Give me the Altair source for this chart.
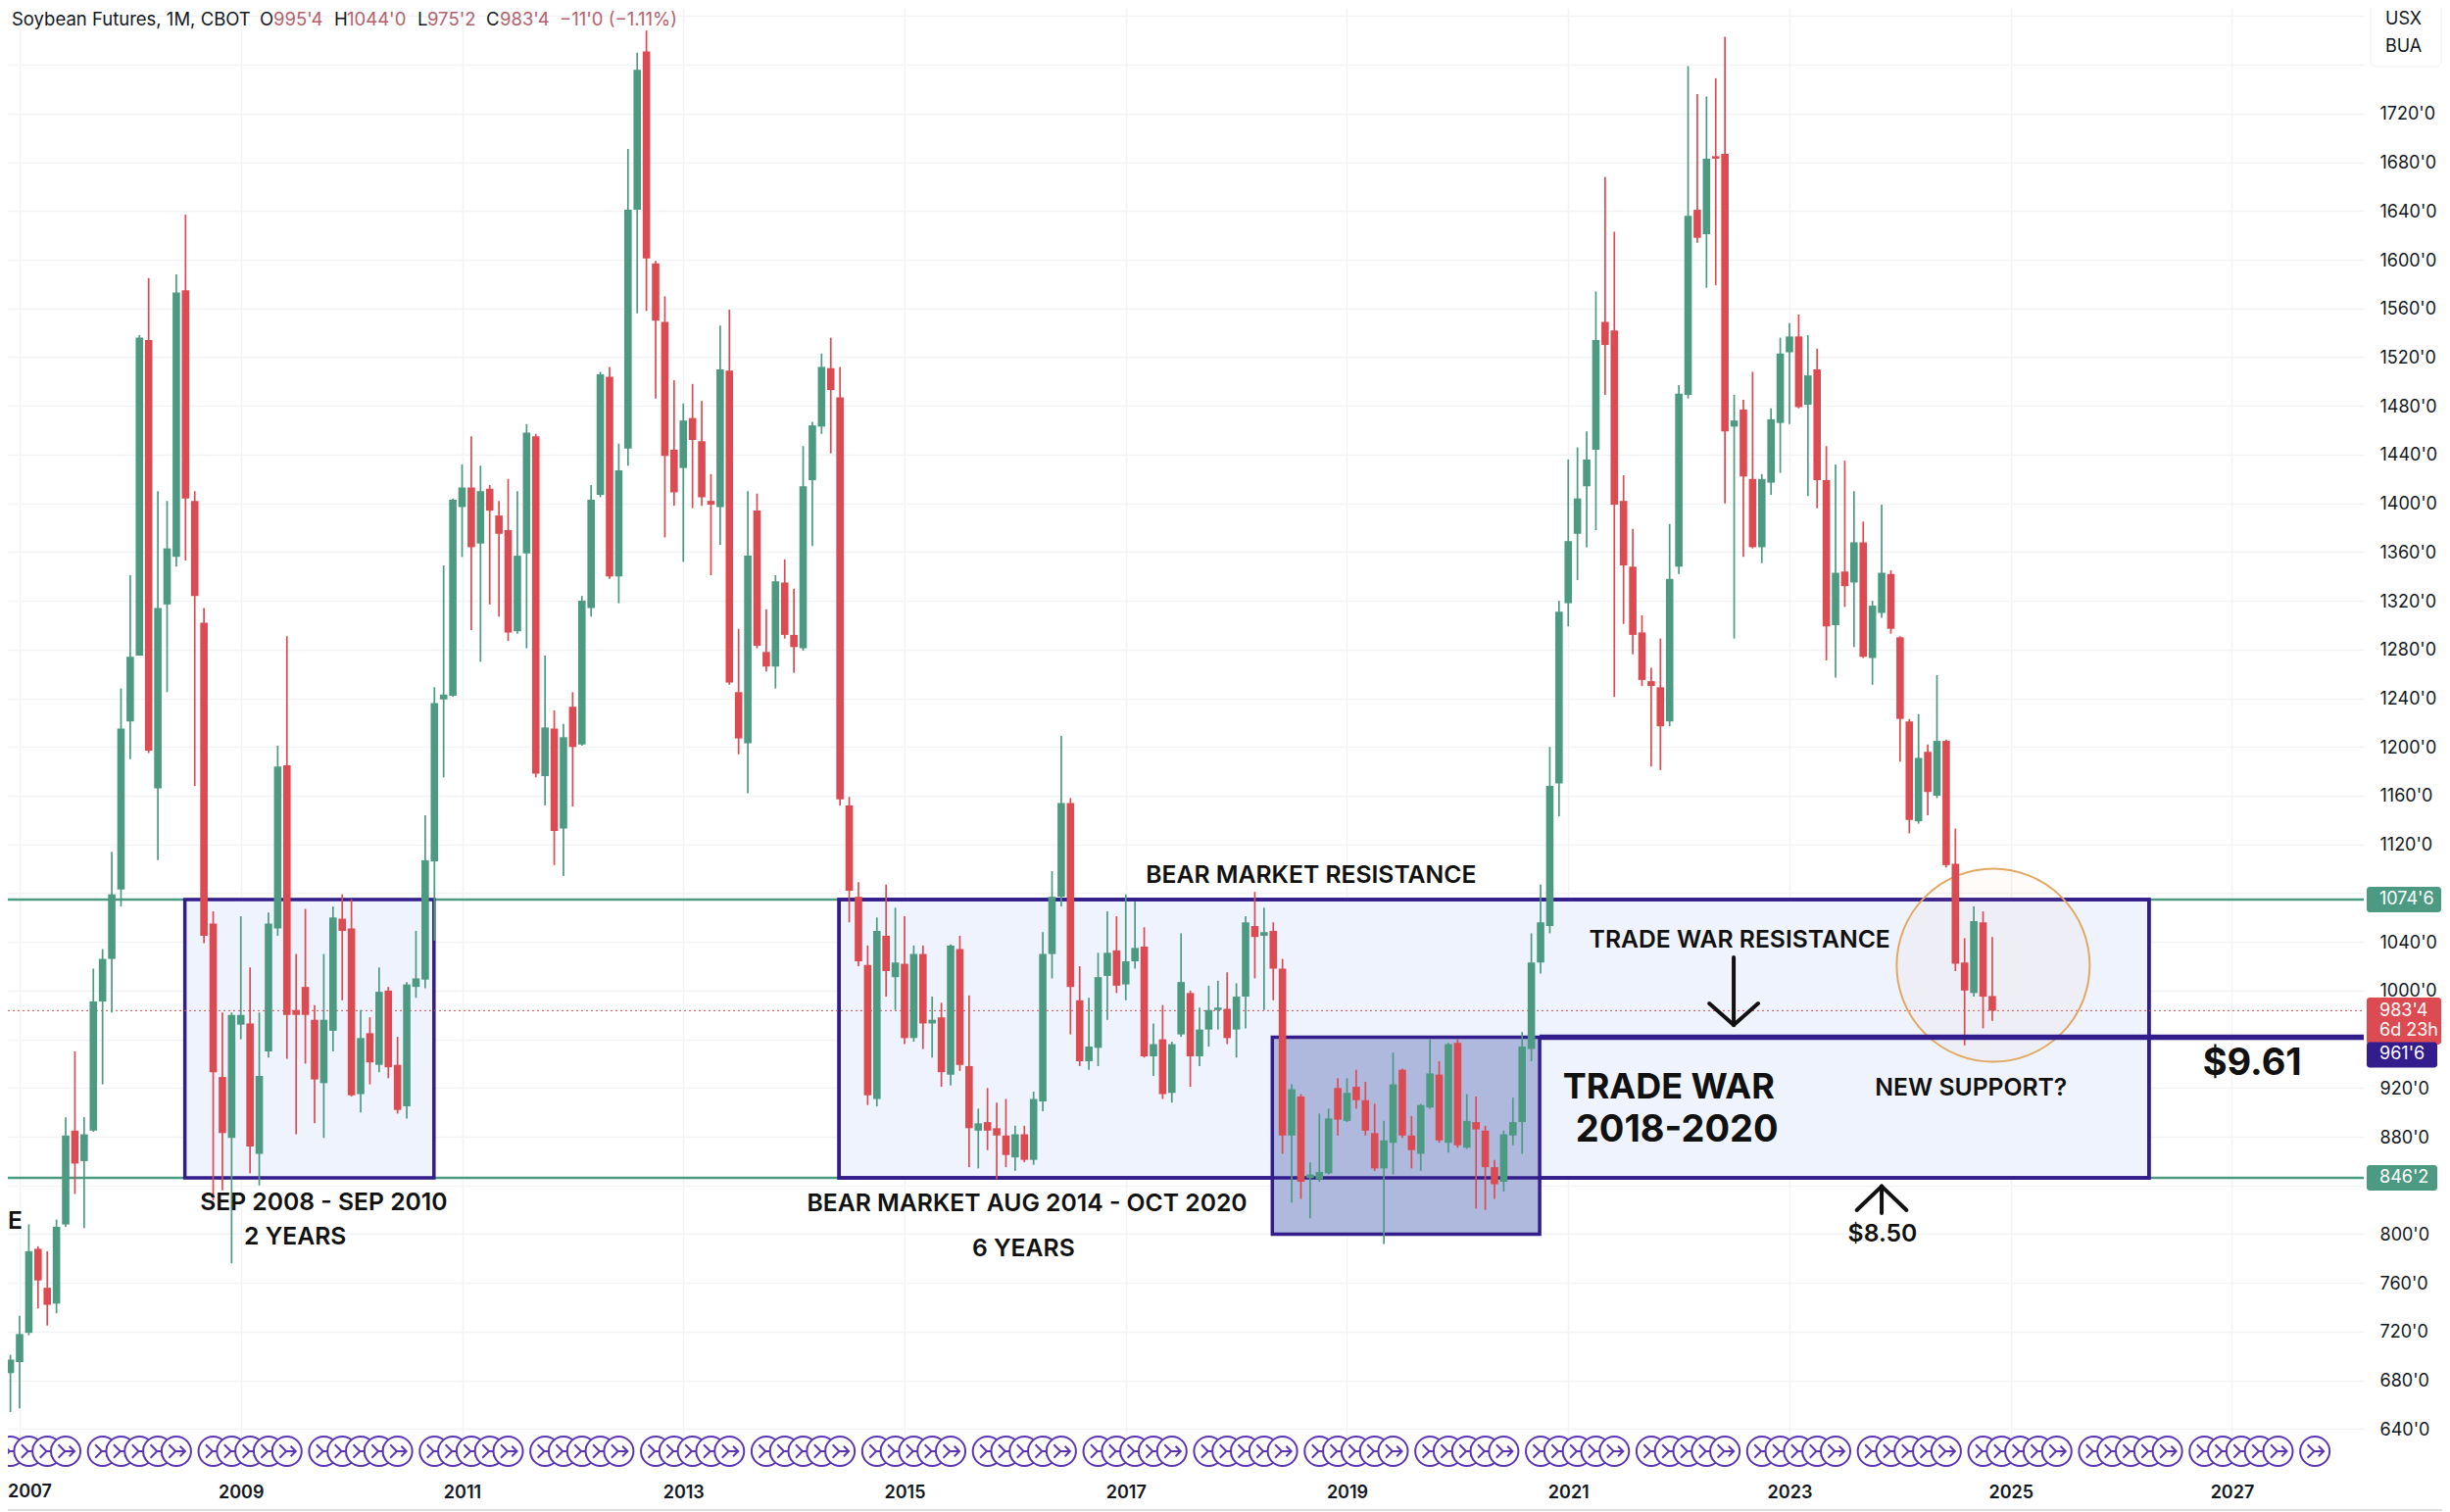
import altair as alt
import pandas as pd

# Monthly candles, first one is Nov 2006 (month index -2; index 0 = Jan 2007)
FIRST_MONTH = -2
opens = [643,686,695,719,788,756,743,808,885,860,
885,991,1026,1083,1221,1275,1534,1166,1317,1356,
1575,1402,1302,1055,929,879,972,973,866,950,
1051,1185,984,1003,976,924,967,1059,1051,915,
965,939,1000,939,905,1003,1009,1106,1239,1242,
1397,1413,1367,1412,1390,1378,1295,1359,1455,1176,
1215,1133,1233,1202,1314,1407,1504,1340,1445,1641,
1771,1597,1549,1444,1429,1470,1451,1402,1397,1509,
1245,1203,1394,1278,1266,1335,1292,1281,1419,1463,
1511,1487,1152,1077,1021,911,1045,1011,1022,961,
1030,973,978,931,1034,938,885,892,887,881,
863,882,861,909,1030,1077,1154,992,942,953,
1012,1033,1005,1024,1036,946,960,916,964,998,
946,968,984,985,968,995,1053,1045,1049,1018,
881,913,846,845,850,920,893,921,910,883,
854,875,935,881,866,904,931,875,957,871,
892,885,855,843,881,892,952,1023,1053,1170,
1318,1375,1414,1444,1549,1542,1402,1348,1294,1254,
1249,1221,1348,1489,1641,1621,1685,1687,1463,1477,
1420,1364,1417,1466,1524,1537,1481,1510,1419,1300,
1344,1335,1368,1273,1310,1342,1290,1221,1139,1196,
1160,1205,1104,1023,998,1056,995.5]
highs = [697,701,733,808,790,786,812,896,950,896,
1018,1034,1114,1248,1341,1538,1585,1410,1402,1588,
1637,1410,1314,1065,982,982,1061,1019,982,1064,
1201,1291,1030,1067,988,1030,1069,1079,1075,984,
978,1019,1003,962,1007,1049,1144,1249,1349,1404,
1432,1455,1431,1415,1402,1420,1410,1465,1457,1275,
1230,1219,1245,1324,1415,1508,1512,1449,1691,1770,
1788,1599,1570,1501,1482,1498,1484,1424,1546,1559,
1297,1410,1408,1313,1341,1354,1330,1447,1467,1523,
1536,1512,1159,1089,1037,1060,1087,1068,1061,1037,
1037,995,990,1038,1045,996,903,920,908,911,
889,889,917,1048,1098,1209,1158,1020,994,1031,
1065,1061,1079,1073,1052,973,988,958,1047,1000,
986,1004,1008,1015,1006,1061,1081,1068,1056,1026,
923,915,859,899,903,928,928,935,925,907,
893,949,936,897,907,960,942,957,960,915,
913,889,861,885,912,966,1047,1087,1200,1320,
1436,1446,1459,1574,1668,1623,1423,1379,1308,1265,
1289,1383,1497,1759,1736,1734,1749,1783,1489,1485,
1508,1424,1478,1536,1548,1555,1538,1527,1447,1432,
1435,1410,1385,1320,1399,1345,1291,1223,1227,1202,
1259,1206,1133,1043,1069,1065,1044]
lows = [642,654,657,717,739,725,735,806,833,805,
884,923,982,1069,1190,1275,1195,1107,1245,1348,
1353,1168,1039,828,836,776,960,850,840,945,
1045,944,882,940,891,879,950,992,913,900,
923,933,928,899,895,994,1002,1041,1175,1241,
1356,1296,1270,1317,1307,1287,1293,1281,1175,1152,
1103,1094,1151,1201,1307,1405,1338,1318,1431,1556,
1558,1486,1372,1398,1352,1396,1398,1341,1366,1251,
1194,1162,1281,1262,1248,1289,1261,1279,1365,1457,
1441,1152,1056,1020,906,905,995,984,956,958,
952,945,921,922,934,855,854,869,845,855,
852,859,857,901,1010,1069,964,938,935,938,
976,998,992,1018,945,930,911,908,962,921,
938,954,968,956,945,969,1010,984,992,866,
826,829,813,843,849,881,892,903,881,852,
792,849,879,854,852,903,875,867,871,870,
821,820,829,835,873,866,942,1014,1047,1143,
1299,1337,1364,1378,1489,1241,1301,1276,1250,1184,
1181,1217,1342,1486,1614,1577,1579,1400,1289,1356,
1363,1351,1407,1425,1465,1478,1406,1396,1271,1257,
1315,1282,1273,1251,1306,1293,1188,1129,1137,1144,
1158,1101,1016,955,995,969,975.25]
closes = [684,697,718,786,762,742,806,881,858,882,
991,1026,1079,1215,1274,1536,1197,1314,1363,1573,
1404,1324,1045,933,883,980,980,872,930,1055,
1184,980,980,980,927,976,1060,1049,914,961,
941,999,937,902,1005,1010,1107,1236,1243,1403,
1413,1364,1410,1394,1375,1294,1357,1458,1178,1216,
1131,1208,1200,1320,1403,1506,1340,1427,1641,1756,
1601,1550,1439,1409,1468,1452,1405,1399,1510,1253,
1207,1357,1283,1266,1336,1292,1282,1414,1464,1512,
1493,1157,1082,1024,914,1049,1016,1023,961,1030,
973,976,933,1037,939,887,891,885,881,865,
882,861,911,1030,1077,1154,1003,942,954,1011,
1031,1004,1024,1035,946,956,915,956,1007,946,
968,984,986,961,995,1056,1044,1048,1018,881,
919,843,849,851,895,894,916,910,885,854,
877,923,881,869,906,932,877,956,873,893,
886,855,841,882,892,954,1023,1056,1168,1311,
1369,1404,1436,1534,1530,1399,1349,1292,1255,1250,
1217,1338,1490,1636,1618,1683,1683,1459,1468,1422,
1364,1420,1469,1523,1537,1479,1505,1419,1299,1343,
1332,1368,1274,1316,1343,1297,1223,1140,1191,1163,
1205,1103,1022,1000,1057,995,983.5]

RES, SUP, CUR, TW = 1074.75, 846.25, 983.5, 961.75
X_DOMAIN = [-1.276, 254.3]
Y_DOMAIN = [606.5, 1806.8]
price_ticks = list(range(640, 1801, 40))
year_ticks = list(range(0, 241, 24))

boxes_t0 = [17.93, 88.9, 135.9]
boxes_t1 = [44.95, 231.0, 164.9]
boxes_hi = [RES, RES, TW]
boxes_lo = [SUP, SUP, 800]
boxes_fill = ["#eff3fd", "#eff3fd", "#afb9dd"]

labels = ["BEAR MARKET RESISTANCE", "TRADE WAR RESISTANCE", "SEP 2008 - SEP 2010", "2 YEARS",
          "BEAR MARKET AUG 2014 - OCT 2020", "6 YEARS", "NEW SUPPORT?", "$8.50"]
labels_t = [140.1, 186.6, 33.0, 29.9, 109.3, 108.9, 211.7, 202.1]
labels_p = [1094.0, 1041, 825.3, 797.2, 824.5, 787.5, 919.4, 799.6]

big_labels = ["TRADE WAR", "2018-2020", "$9.61"]
big_t = [178.9, 179.8, 242.2]
big_p = [920.2, 884.8, 939.6]
big_size = [36, 38, 38]

arrow_t1 = [185.95, 183.3, 188.6, 202.0, 199.3, 204.7]
arrow_p1 = [1027.2, 989.4, 989.4, 817.3, 819.7, 819.7]
arrow_t2 = [185.95, 185.95, 185.95, 202.0, 202.0, 202.0]
arrow_p2 = [971.7, 971.7, 971.7, 839.3, 839.3, 839.3]

event_months = [t for k in range(-1, 20) for t in [9 + 12 * k + 2 * j for j in range(5)]] + [249]
ICON_PRICE = 621.8
ICON = ("M-1,0 A1,1 0 1,1 1,0 A1,1 0 1,1 -1,0 Z "
        "M-0.5,-0.45 L-0.05,0 L-0.5,0.45 M-0.05,0 L0.6,0 M0.25,-0.35 L0.6,0 L0.25,0.35")

GREEN, RED, NAVY, INK = "#4c9a82", "#dd4b52", "#331c8c", "#131722"
FONT = "Inter"

xs = alt.Scale(domain=X_DOMAIN, nice=False, zero=False, padding=0)
ys = alt.Scale(domain=Y_DOMAIN, nice=False, zero=False, padding=0)
x_axis = alt.Axis(
    values=year_ticks, labelExpr="datum.value == 0 ? '' : toString(2007 + datum.value / 12)", grid=True,
    gridColor="#f1f3f7", gridWidth=1.5, domain=False, ticks=False, labelPadding=14,
    labelFont=FONT, labelFontSize=18, labelFontWeight=600, labelColor=INK, labelFlush=False,
    labelOverlap=False, labelBound=False, title=None)
y_axis = alt.Axis(
    orient="right", values=price_ticks,
    labelExpr="indexof([840, 960, 1080, 1760, 1800], datum.value) >= 0 ? '' : toString(datum.value) + \"'0\"",
    grid=True, gridColor="#f1f3f7", gridWidth=1.5, domain=False, ticks=False, labelPadding=16,
    labelFont=FONT, labelFontSize=18, labelColor=INK, labelAlign="left", labelOverlap=False,
    labelBound=False, labelFlush=False, labelOffset=1, title=None)


def X(f):
    return alt.X(f, type="quantitative", scale=xs, axis=x_axis)


def Y(f):
    return alt.Y(f, type="quantitative", scale=ys, axis=y_axis)


candles = pd.DataFrame({"o": opens, "h": highs, "l": lows, "c": closes})
candles["t"] = range(FIRST_MONTH, FIRST_MONTH + len(candles))
candles["col"] = [GREEN if c >= o else RED for o, c in zip(opens, closes)]

box_df = pd.DataFrame({"t0": boxes_t0, "t1": boxes_t1, "hi": boxes_hi, "lo": boxes_lo, "f": boxes_fill})
boxes = alt.Chart(box_df).mark_rect(stroke=NAVY, strokeWidth=3.5).encode(
    x=X("t0"), x2=alt.X2("t1"), y=Y("hi"), y2=alt.Y2("lo"),
    color=alt.Color("f:N", scale=None, legend=None))
outline = alt.Chart(box_df.iloc[[1]]).mark_rect(fillOpacity=0, stroke=NAVY, strokeWidth=3.5).encode(
    x=X("t0"), x2=alt.X2("t1"), y=Y("hi"), y2=alt.Y2("lo"))

lines_df = pd.DataFrame({"p": [RES, SUP], "a": X_DOMAIN[:1] * 2, "b": X_DOMAIN[1:] * 2})
green_lines = alt.Chart(lines_df).mark_rule(color=GREEN, strokeWidth=2.5).encode(
    x=X("a"), x2=alt.X2("b"), y=Y("p"))
support = alt.Chart(pd.DataFrame({"p": [TW], "a": [164.9], "b": X_DOMAIN[1:]})).mark_rule(
    color=NAVY, strokeWidth=5.5).encode(x=X("a"), x2=alt.X2("b"), y=Y("p"))
price_line = alt.Chart(pd.DataFrame({"p": [CUR], "a": X_DOMAIN[:1], "b": X_DOMAIN[1:]})).mark_rule(
    color=RED, strokeWidth=1, strokeDash=[2, 3]).encode(x=X("a"), x2=alt.X2("b"), y=Y("p"))

circle = alt.Chart(pd.DataFrame({"t": [214.1], "p": [1020.8]})).mark_point(
    shape="circle", size=38800, filled=False, fill="#f2c28a", fillOpacity=0.06,
    stroke="#e2a863", strokeWidth=2, opacity=1).encode(x=X("t"), y=Y("p"))

wicks = alt.Chart(candles).mark_rule(strokeWidth=1.7, clip=True).encode(
    x=X("t"), y=Y("h"), y2=alt.Y2("l"), color=alt.Color("col:N", scale=None, legend=None))
bodies = alt.Chart(candles).mark_bar(size=7.6, clip=True).encode(
    x=X("t"), y=Y("o"), y2=alt.Y2("c"), color=alt.Color("col:N", scale=None, legend=None))

icons = alt.Chart(pd.DataFrame({"t": event_months, "p": [ICON_PRICE] * len(event_months)})).mark_point(
    shape=ICON, size=900, filled=False, fill="white", fillOpacity=1, stroke="#5b35b5",
    strokeWidth=2, opacity=1, clip=True).encode(x=X("t"), y=Y("p"), order=alt.Order("t:Q"))

arrows = alt.Chart(pd.DataFrame({"a": arrow_t1, "pa": arrow_p1, "b": arrow_t2, "pb": arrow_p2})).mark_rule(
    color="#111111", strokeWidth=4, strokeCap="round").encode(
    x=X("a"), x2=alt.X2("b"), y=Y("pa"), y2=alt.Y2("pb"))

notes = alt.Chart(pd.DataFrame({"s": labels, "t": labels_t, "p": labels_p})).mark_text(
    font=FONT, fontSize=24.7, fontWeight=600, color="#111111", align="center", baseline="middle").encode(
    x=X("t"), y=Y("p"), text="s:N")
big_notes = alt.Chart(pd.DataFrame({"s": big_labels, "t": big_t, "p": big_p, "z": big_size})).mark_text(
    font=FONT, fontWeight=700, color="#111111", align="center", baseline="middle").encode(
    x=X("t"), y=Y("p"), text="s:N", size=alt.Size("z:Q", scale=None, legend=None))


def flag(x0, x1, hi, lo, colour):
    return alt.Chart(pd.DataFrame({"hi": [hi], "lo": [lo]})).mark_rect(
        color=colour, cornerRadius=3).encode(
        x=alt.value(x0), x2=alt.value(x1), y=Y("hi"), y2=alt.Y2("lo"))


def flag_text(s, p, colour="white"):
    return alt.Chart(pd.DataFrame({"s": [s], "p": [p]})).mark_text(
        font=FONT, fontSize=18, color=colour, align="left", baseline="middle").encode(
        x=alt.value(2420), y=Y("p"), text="s:N")


def pixel_text(s, x, y, colour=INK, size=18.5, weight=400):
    return alt.Chart(pd.DataFrame({"s": [s]})).mark_text(
        font=FONT, fontSize=size, fontWeight=weight, color=colour, align="left", baseline="middle").encode(
        x=alt.value(x), y=alt.value(y), text="s:N")


flags = [
    flag(2407, 2483, RES + 10.5, RES - 10.5, GREEN), flag_text("1074'6", RES),
    flag(2407, 2479, SUP + 10.5, SUP - 10.5, GREEN), flag_text("846'2", SUP),
    flag(2407, 2483, 994.3, 955.7, RED), flag_text("983'4", 983), flag_text("6d 23h", 967),
    flag(2407, 2479, TW - 4, TW - 25, NAVY), flag_text("961'6", TW - 14.5),
]

header_parts = [("Soybean Futures, 1M, CBOT", 4, INK), ("O", 257, INK), ("995'4", 271, "#b5606d"),
                ("H", 333, INK), ("1044'0", 346, "#b5606d"), ("L", 418, INK), ("975'2", 428, "#b5606d"),
                ("C", 488, INK), ("983'4", 502, "#b5606d"), ("\u221211'0 (\u22121.11%)", 563, "#b5606d")]
header = [pixel_text(s, x, 12, c) for s, x, c in header_parts]

menu = alt.Chart(pd.DataFrame({"a": [0]})).mark_rect(
    fill="white", stroke="#eceef2", strokeWidth=1, cornerRadius=6).encode(
    x=alt.value(2411), x2=alt.value(2483), y=alt.value(-6), y2=alt.value(60))
menu_text = [pixel_text("USX", 2426, 12, size=18), pixel_text("BUA", 2426, 40, size=18)]
stub = pixel_text("E", 0, 1239, "#111111", 24.7, 600)
first_year = pixel_text("2007", 0, 1515, INK, 18, 600)
bottom = alt.Chart(pd.DataFrame({"a": [0]})).mark_rule(color="#d4d6da", strokeWidth=1.5).encode(
    x=alt.value(-8), x2=alt.value(2484), y=alt.value(1533))

chart = alt.layer(
    green_lines, boxes, outline, price_line, circle, wicks, bodies, support, icons, arrows, notes, big_notes,
    *flags, *header, menu, *menu_text, stub, first_year, bottom,
).properties(
    width=2404, height=1492, background="white",
    padding={"left": 0, "top": 0, "right": 80, "bottom": 42},
    autosize=alt.AutoSizeParams(type="none"),
).configure_view(stroke=None)

chart.save("out.html", embed_options={"renderer": "svg", "actions": False})
